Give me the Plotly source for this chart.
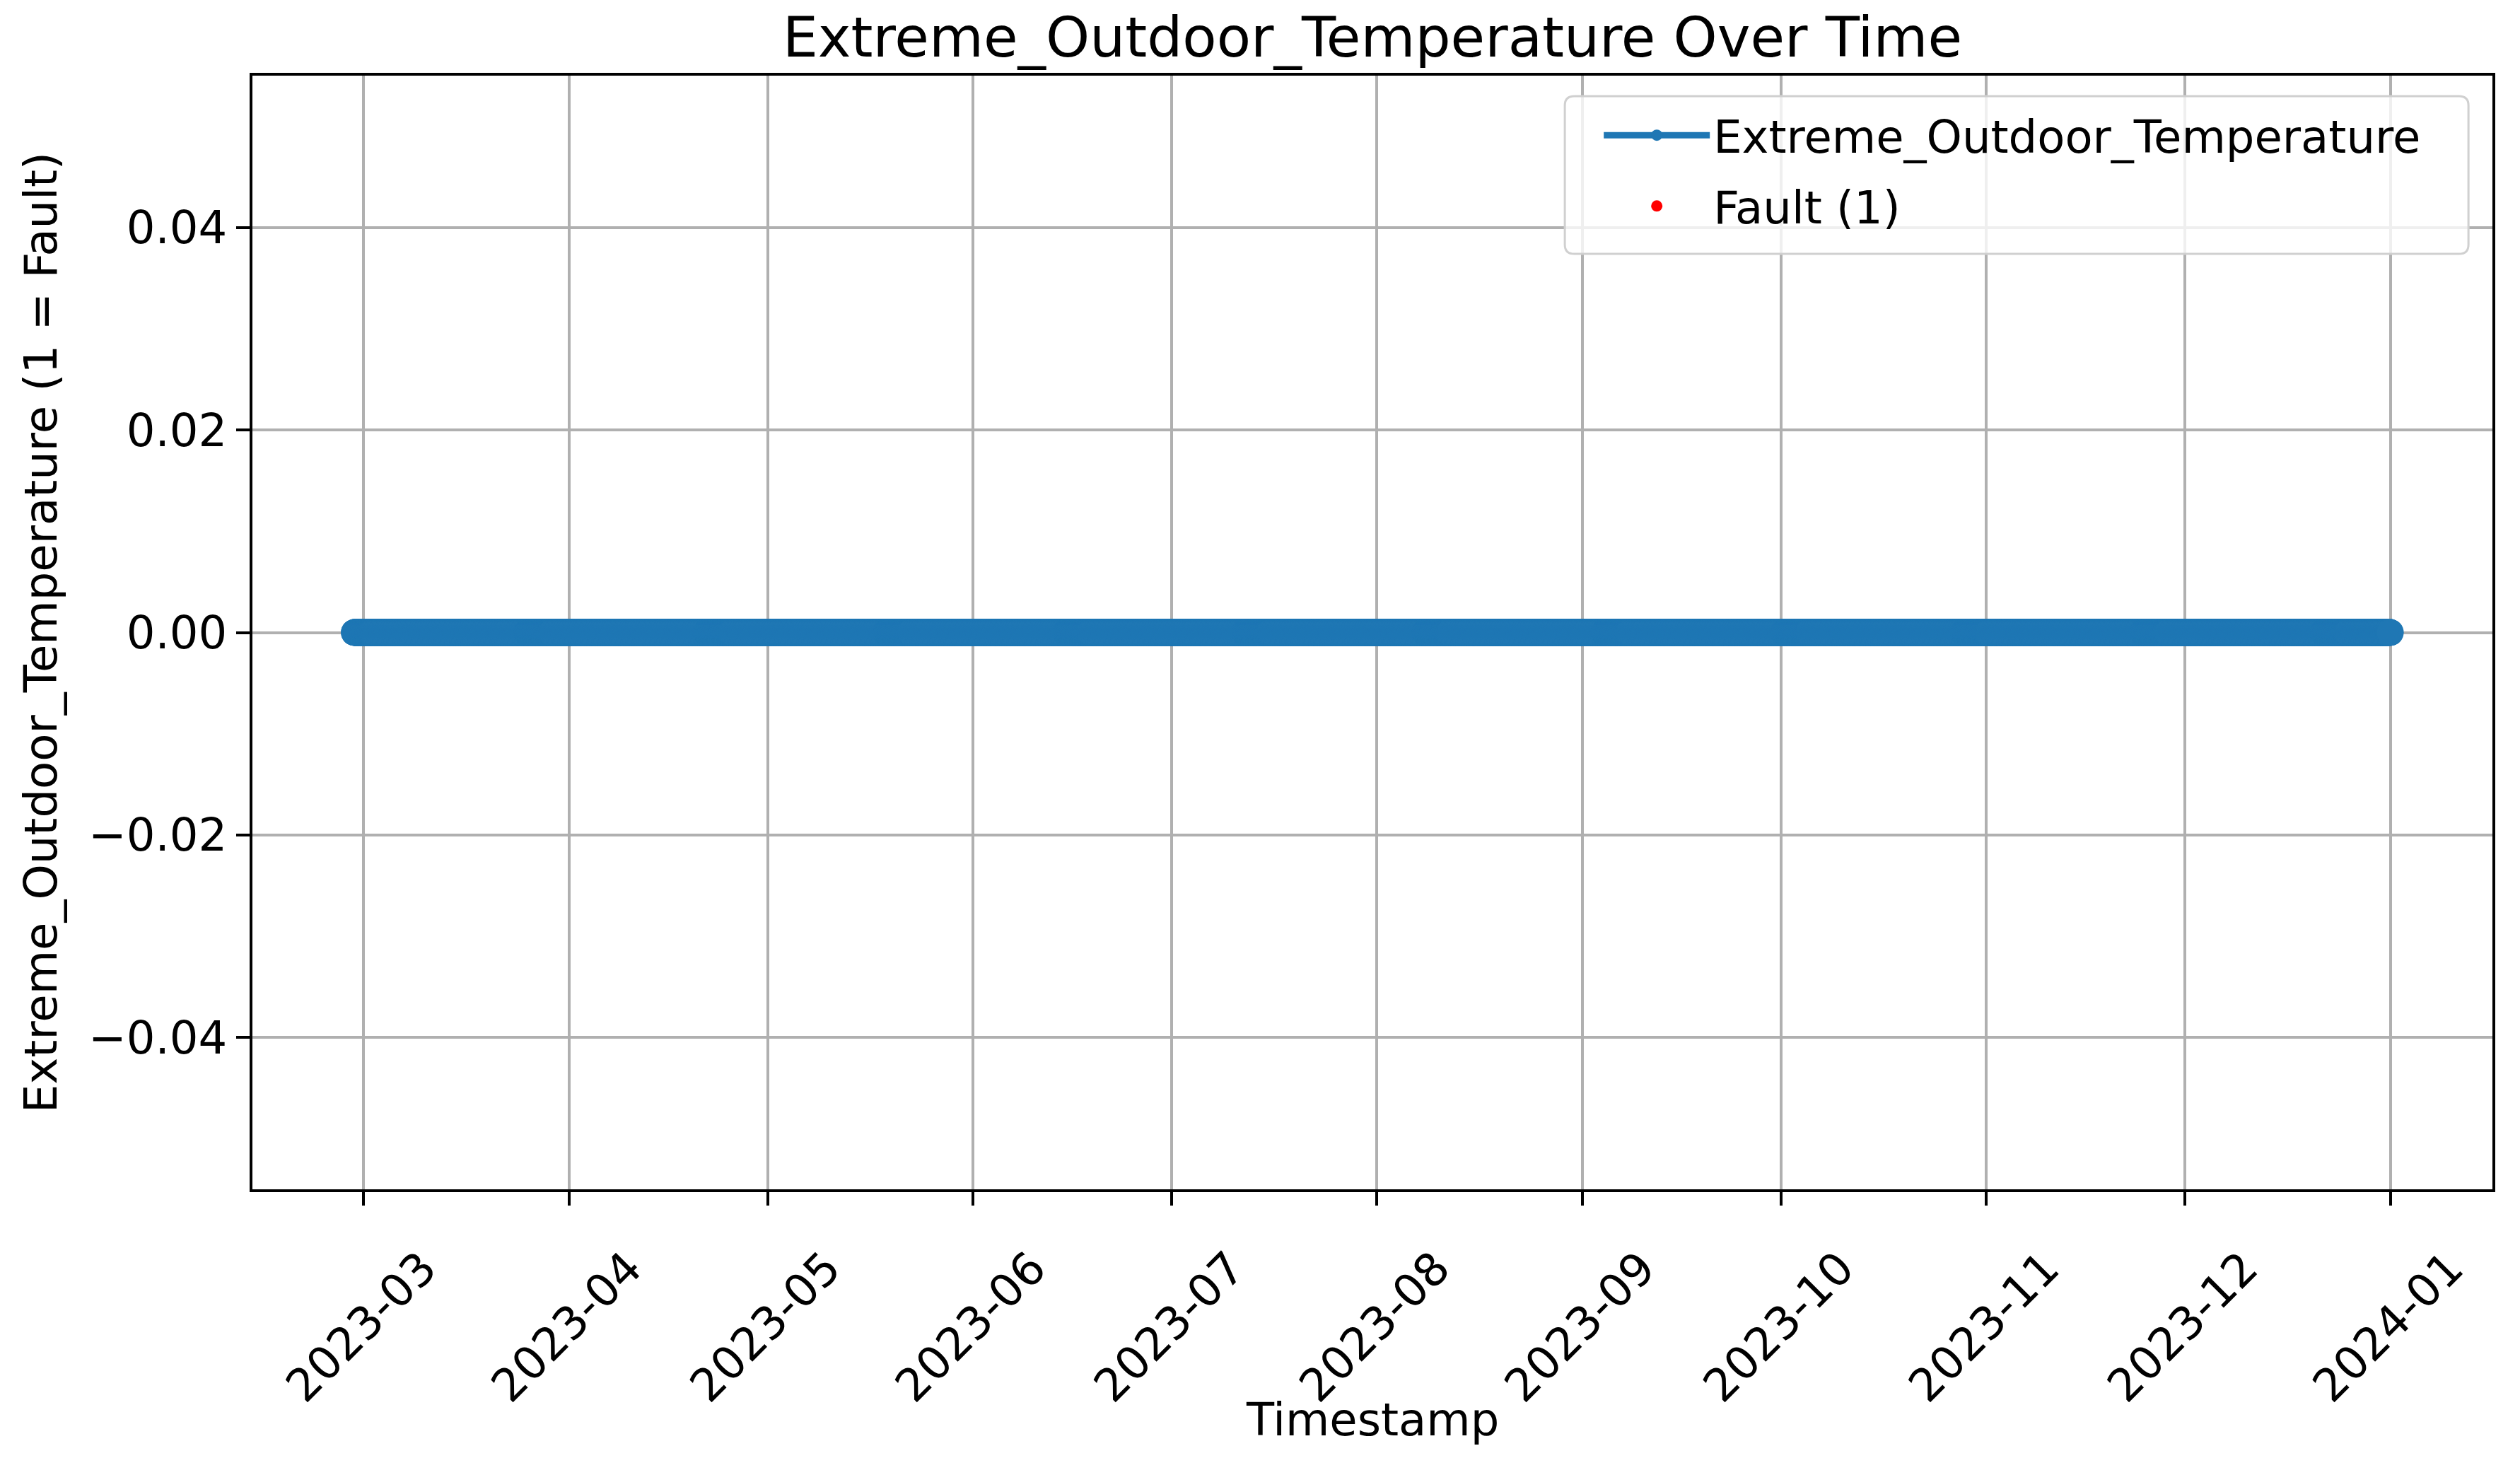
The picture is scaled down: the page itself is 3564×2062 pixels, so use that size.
import pandas as pd
import plotly.graph_objects as go

# ---- data ----
series_name = "Extreme_Outdoor_Temperature"
start_time = "2023-02-27 14:00"
end_time = "2024-01-01 00:00"
timestamps = pd.date_range(start_time, end_time, freq="h")
values = [0] * len(timestamps)          # every reading is 0 (no fault)
fault_times = [None]                     # no fault points (value == 1)
fault_values = [None]

x_tick_labels = ["2023-03", "2023-04", "2023-05", "2023-06", "2023-07", "2023-08",
                 "2023-09", "2023-10", "2023-11", "2023-12", "2024-01"]
x_tick_vals = [t + "-01" for t in x_tick_labels]
y_tick_vals = [-0.04, -0.02, 0.0, 0.02, 0.04]
x_range = ["2023-02-12 05:00", "2024-01-16 10:00"]
y_range = [-0.055, 0.055]
x_title = "Timestamp"

FONT = "DejaVu Sans"
BLUE = "#1f77b4"

fig = go.Figure()
fig.add_trace(go.Scatter(
    x=timestamps, y=values, mode="lines+markers", name=series_name,
    legendgroup="a",
    line=dict(color=BLUE, width=9),
    marker=dict(color=BLUE, size=38, line=dict(width=0)),
))
fig.add_trace(go.Scatter(
    x=fault_times, y=fault_values, mode="markers", name="Fault (1)",
    legendgroup="b",
    marker=dict(color="red", size=38, line=dict(width=0)),
))

axis_common = dict(
    showline=True, linecolor="black", linewidth=4, mirror=True,
    ticks="outside", ticklen=19, tickwidth=4, tickcolor="black",
    showgrid=True, gridcolor="#b0b0b0", gridwidth=4,
    zeroline=False,
    tickfont=dict(family=FONT, size=64, color="black"),
)

# rounded legend frame (matplotlib-style fancybox), in paper coordinates
bx0, bx1, by0, by1 = 0.5859, 0.9893, 0.840, 0.9816
rx, ry = 0.0042, 0.0083
frame_path = (
    f"M{bx0 + rx},{by1} L{bx1 - rx},{by1} Q{bx1},{by1} {bx1},{by1 - ry} "
    f"L{bx1},{by0 + ry} Q{bx1},{by0} {bx1 - rx},{by0} "
    f"L{bx0 + rx},{by0} Q{bx0},{by0} {bx0},{by0 + ry} "
    f"L{bx0},{by1 - ry} Q{bx0},{by1} {bx0 + rx},{by1} Z"
)

fig.update_layout(
    width=3564, height=2062,
    margin=dict(l=357, r=39, t=107, b=380, autoexpand=False),
    paper_bgcolor="white", plot_bgcolor="white",
    font=dict(family=FONT, size=64, color="black"),
    title=dict(text=f"{series_name} Over Time", x=0.5, xanchor="center", xref="paper",
               y=1 - 80 / 2062, yanchor="bottom", yref="container",
               font=dict(family=FONT, size=79, color="black")),
    xaxis=dict(
        **axis_common, type="date", range=x_range,
        tickvals=x_tick_vals, ticktext=x_tick_labels, tickangle=-45,
        ticklabelshift=84, ticklabelstandoff=25,
    ),
    yaxis=dict(
        **axis_common, range=y_range, tickvals=y_tick_vals, tickformat=".2f",
        title=dict(text=f"{series_name} (1 = Fault)", font=dict(family=FONT, size=64), standoff=25),
    ),
    legend=dict(
        x=0.6017, y=0.9771, xanchor="left", yanchor="top",
        bgcolor="rgba(0,0,0,0)", borderwidth=0,
        font=dict(family=FONT, size=64, color="black"),
        itemwidth=150, tracegroupgap=14,
    ),
    shapes=[dict(type="path", path=frame_path, xref="paper", yref="paper",
                 layer="above", fillcolor="rgba(255,255,255,0.8)",
                 line=dict(color="#d0d0d0", width=3))],
    annotations=[dict(text=x_title, xref="paper", yref="paper", x=0.5, y=-0.207,
                      xanchor="center", yanchor="middle", showarrow=False,
                      font=dict(family=FONT, size=64, color="black"))],
    showlegend=True,
)

fig.write_html("out.html", config={"displayModeBar": False},
               post_script="document.body.style.margin='0';document.body.style.overflow='hidden';")
